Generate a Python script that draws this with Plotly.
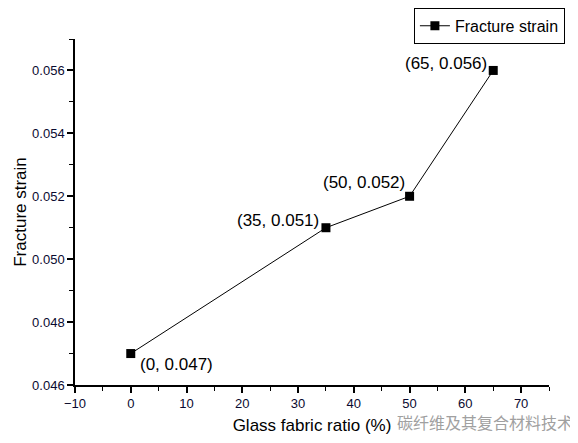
import plotly.graph_objects as go

ratio = [0, 35, 50, 65]
strain = [0.047, 0.051, 0.052, 0.056]
labels = ["(0, 0.047)", "(35, 0.051)", "(50, 0.052)", "(65, 0.056)"]
x_ticks = [-10, 0, 10, 20, 30, 40, 50, 60, 70]
y_ticks = [0.046, 0.048, 0.050, 0.052, 0.054, 0.056]

fig = go.Figure()
fig.add_trace(go.Scatter(
    x=ratio, y=strain, mode="lines+markers", name="Fracture strain",
    line=dict(color="black", width=1),
    marker=dict(symbol="square", size=9, color="black"),
))

offsets = [(7, 11, "left"), (-5, -7, "right"), (-3, -14, "right"), (-4, -7, "right")]
for xv, yv, t, (dx, dy, al) in zip(ratio, strain, labels, offsets):
    fig.add_annotation(x=xv, y=yv, text=t, showarrow=False, xshift=dx, yshift=-dy,
                       xanchor=al, yanchor="middle",
                       font=dict(family="Liberation Sans, Arial", size=17, color="black"))

fig.add_annotation(xref="paper", yref="paper", x=1.055, y=-0.108, text="碳纤维及其复合材料技术",
                   showarrow=False, xanchor="right", yanchor="middle",
                   font=dict(family="Noto Sans CJK SC", size=16, color="#a0a0a0"))

axis_common = dict(showline=True, linecolor="black", linewidth=1.5, ticks="outside",
                   ticklen=6, tickwidth=1.5, tickcolor="black", showgrid=False, zeroline=False,
                   automargin=False,
                   tickfont=dict(family="Liberation Sans, Arial", size=13, color="#0a0a30"),
                   title_font=dict(family="Liberation Sans, Arial", size=17, color="black"),
                   minor=dict(ticks="outside", ticklen=4, tickwidth=1, tickcolor="black"))

fig.update_layout(
    width=570, height=435,
    margin=dict(l=67, r=29, t=31, b=58, autoexpand=False),
    paper_bgcolor="white", plot_bgcolor="white",
    showlegend=True,
    legend=dict(x=0.715, y=1.09, xanchor="left", yanchor="top",
                bordercolor="black", borderwidth=1, bgcolor="white",
                font=dict(family="Liberation Sans, Arial", size=16, color="black"),
                itemwidth=30, tracegroupgap=0),
    xaxis=dict(range=[-10, 75], tickvals=x_ticks, title=dict(text="Glass fabric ratio (%)", standoff=9),
               minor_dtick=5, minor_tick0=-10, **axis_common),
    yaxis=dict(range=[0.046, 0.057], tickvals=y_ticks, tickformat=".3f",
               title=dict(text="Fracture strain", standoff=1),
               minor_dtick=0.001, minor_tick0=0.046, **axis_common),
)

fig.write_html("out.html")
